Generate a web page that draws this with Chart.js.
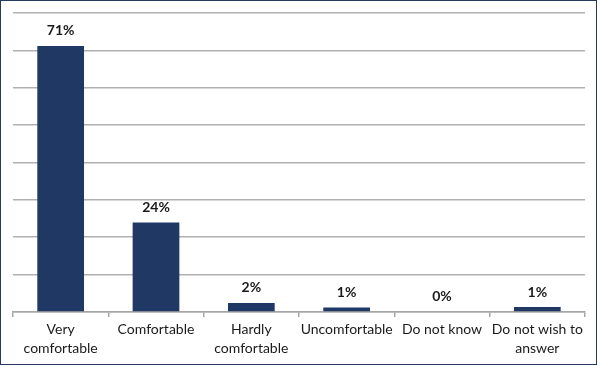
<!DOCTYPE html>
<html>
<head>
<meta charset="utf-8">
<script src="https://cdn.jsdelivr.net/npm/chart.js@4.4.1/dist/chart.umd.min.js"></script>
<style>
  html, body { margin: 0; padding: 0; background: #ffffff; }
  #frame {
    position: absolute; left: 0; top: 0;
    width: 597px; height: 365px;
    box-sizing: border-box;
    border: 1px solid #26385c;
  }
  #wrap { position: absolute; left: 0; top: 0; width: 600px; height: 366px; }
</style>
</head>
<body>
<div id="wrap"><canvas id="surveyChart" width="600" height="366"></canvas></div>
<div id="frame"></div>
<script>
// Survey answers, share of respondents (%)
const categories = [
  ['Very', 'comfortable'],
  ['Comfortable'],
  ['Hardly', 'comfortable'],
  ['Uncomfortable'],
  ['Do not know'],
  ['Do not wish to', 'answer']
];
const shares = [71.2, 23.9, 2.4, 1.2, 0, 1.3];
const shareLabels = ['71%', '24%', '2%', '1%', '0%', '1%'];
const yTicks = [0, 10, 20, 30, 40, 50, 60, 70, 80];

// Bold labels above each bar
const barLabels = {
  id: 'barLabels',
  afterDatasetsDraw(chart) {
    const ctx = chart.ctx;
    const meta = chart.getDatasetMeta(0);
    ctx.save();
    ctx.font = 'bold 14px Lato, "Open Sans", sans-serif';
    ctx.fillStyle = '#1a1a1a';
    ctx.textAlign = 'center';
    ctx.textBaseline = 'middle';
    meta.data.forEach(function(bar, i) {
      ctx.fillText(shareLabels[i], bar.x, bar.y - 15);
    });
    ctx.restore();
  }
};

const ctx = document.getElementById('surveyChart').getContext('2d');
new Chart(ctx, {
  type: 'bar',
  data: {
    labels: categories,
    datasets: [{
      data: shares,
      backgroundColor: '#1f3864',
      barPercentage: 0.49,
      categoryPercentage: 1.0
    }]
  },
  options: {
    responsive: false,
    animation: false,
    layout: {
      padding: { left: 13, right: 15, top: 13, bottom: 5 }
    },
    plugins: {
      legend: { display: false },
      tooltip: { enabled: false }
    },
    scales: {
      x: {
        grid: {
          offset: true,
          drawOnChartArea: false,
          drawTicks: true,
          tickLength: 5,
          color: '#a6a6a6',
          lineWidth: 1.5
        },
        border: { display: true, color: '#a6a6a6', width: 1.5 },
        ticks: {
          color: '#1a1a1a',
          padding: 3,
          maxRotation: 0,
          autoSkip: false,
          font: { family: 'Lato, "Open Sans", sans-serif', size: 14, lineHeight: 1.36 }
        }
      },
      y: {
        min: 0,
        max: 80,
        afterBuildTicks: function(axis) {
          axis.ticks = yTicks.map(v => ({ value: v }));
        },
        grid: {
          color: '#b0b0b0',
          lineWidth: 1.5,
          drawTicks: false
        },
        border: { display: false },
        ticks: { display: false }
      }
    }
  },
  plugins: [barLabels]
});
</script>
</body>
</html>
